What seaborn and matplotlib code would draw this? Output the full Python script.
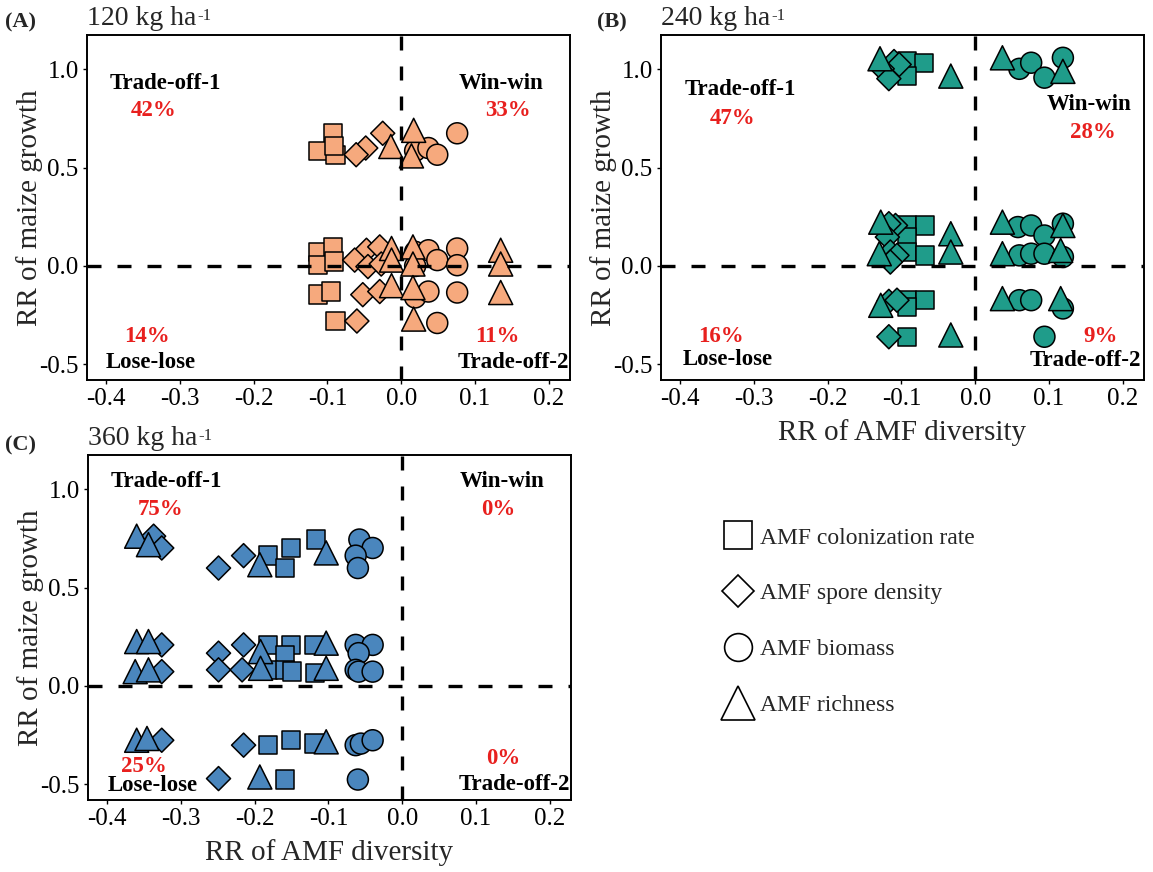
import numpy as np
import pandas as pd
import matplotlib
matplotlib.use("Agg")
import matplotlib.pyplot as plt
import seaborn as sns
from matplotlib.lines import Line2D

# ---------------- data ----------------
INDICATORS = ["AMF colonization rate", "AMF spore density", "AMF biomass", "AMF richness"]
MARKERS = dict(zip(INDICATORS, ["s", "D", "o", "^"]))
SIZES = dict(zip(INDICATORS, [175, 150, 228, 300]))

PANEL_TITLES = ["120 kg ha", "240 kg ha", "360 kg ha"]
TITLE_SUP = "-1"
PANEL_TAGS = ["(A)", "(B)", "(C)"]
COLORS = ["#F6A97D", "#1F9C8A", "#4A86BD"]

# Panel A (120 kg/ha)
A_colon_x = [-0.092, -0.113, -0.089, -0.091, -0.113, -0.092, -0.113, -0.091, -0.113, -0.095, -0.089]
A_colon_y = [0.675, 0.586, 0.566, 0.61, 0.072, 0.097, 0.004, 0.022, -0.146, -0.13, -0.28]
A_spore_x = [-0.025, -0.048, -0.061, -0.047, -0.029, -0.063, -0.045, -0.027, -0.052, -0.029, -0.06]
A_spore_y = [0.675, 0.60, 0.566, 0.08, 0.097, 0.03, -0.003, 0.01, -0.146, -0.13, -0.28]
A_bio_x = [0.076, 0.019, 0.037, 0.049, 0.019, 0.037, 0.076, 0.019, 0.049, 0.076, 0.019, 0.037, 0.076, 0.049]
A_bio_y = [0.675, 0.586, 0.60, 0.566, 0.072, 0.08, 0.089, 0.0, 0.03, 0.004, -0.16, -0.13, -0.135, -0.29]
A_rich_x = [0.017, -0.014, 0.014, -0.013, 0.016, 0.135, -0.013, 0.016, 0.135, -0.013, 0.016, 0.135, 0.017]
A_rich_y = [0.69, 0.608, 0.56, 0.089, 0.097, 0.08, 0.03, 0.01, 0.01, -0.10, -0.11, -0.135, -0.27]

# Panel B (240 kg/ha)
B_colon_x = [-0.092, -0.069, -0.092, -0.092, -0.068, -0.092, -0.092, -0.068, -0.092, -0.068, -0.092, -0.092]
B_colon_y = [1.042, 1.034, 0.966, 0.206, 0.206, 0.147, 0.071, 0.054, -0.174, -0.174, -0.21, -0.36]
B_spore_x = [-0.110, -0.103, -0.126, -0.117, -0.108, -0.117, -0.119, -0.115, -0.106, -0.115, -0.117, -0.106, -0.117]
B_spore_y = [1.04, 1.025, 1.003, 0.953, 0.206, 0.215, 0.147, 0.071, 0.054, 0.02, -0.18, -0.174, -0.36]
B_bio_x = [0.060, 0.076, 0.094, 0.119, 0.058, 0.076, 0.094, 0.119, 0.060, 0.076, 0.094, 0.119, 0.060, 0.076, 0.119, 0.094]
B_bio_y = [1.003, 1.034, 0.958, 1.059, 0.198, 0.206, 0.155, 0.215, 0.054, 0.0625, 0.0625, 0.046, -0.174, -0.174, -0.216, -0.36]
B_rich_x = [-0.129, -0.033, 0.037, 0.119, -0.128, -0.033, 0.037, 0.119, -0.130, -0.033, 0.037, 0.116, -0.128, 0.037, 0.116, -0.033]
B_rich_y = [1.054, 0.966, 1.059, 0.99, 0.223, 0.164, 0.223, 0.206, 0.0625, 0.071, 0.0625, 0.079, -0.20, -0.166, -0.166, -0.351]

# Panel C (360 kg/ha)
C_colon_x = [-0.182, -0.159, -0.151, -0.117, -0.182, -0.151, -0.159, -0.119, -0.182, -0.159, -0.149, -0.118, -0.182, -0.151, -0.119, -0.159]
C_colon_y = [0.663, 0.600, 0.702, 0.745, 0.209, 0.209, 0.158, 0.209, 0.082, 0.082, 0.073, 0.065, -0.301, -0.276, -0.293, -0.476]
C_spore_x = [-0.337, -0.326, -0.249, -0.215, -0.326, -0.249, -0.215, -0.326, -0.249, -0.217, -0.326, -0.215, -0.249]
C_spore_y = [0.762, 0.702, 0.600, 0.663, 0.209, 0.167, 0.209, 0.073, 0.082, 0.082, -0.276, -0.301, -0.471]
C_bio_x = [-0.058, -0.040, -0.063, -0.060, -0.063, -0.040, -0.059, -0.063, -0.059, -0.040, -0.063, -0.056, -0.040, -0.060]
C_bio_y = [0.745, 0.702, 0.663, 0.600, 0.209, 0.209, 0.167, 0.082, 0.073, 0.073, -0.301, -0.293, -0.276, -0.476]
C_rich_x = [-0.360, -0.344, -0.193, -0.103, -0.360, -0.344, -0.192, -0.103, -0.362, -0.344, -0.192, -0.103, -0.360, -0.346, -0.103, -0.193]
C_rich_y = [0.762, 0.719, 0.617, 0.677, 0.226, 0.226, 0.175, 0.218, 0.073, 0.082, 0.09, 0.09, -0.276, -0.267, -0.284, -0.463]

QUAD_LABELS = ["Trade-off-1", "Win-win", "Lose-lose", "Trade-off-2"]
A_pct = ["42%", "33%", "14%", "11%"]
B_pct = ["47%", "28%", "16%", "9%"]
C_pct = ["75%", "0%", "25%", "0%"]

# ---------------- style ----------------
sns.set_style("ticks")
plt.rcParams["font.family"] = ["Liberation Serif", "DejaVu Serif"]
plt.rcParams["axes.unicode_minus"] = False


def build(parts):
    rows = []
    for ind, xs, ys in parts:
        for x, y in zip(xs, ys):
            rows.append((x, y, ind))
    return pd.DataFrame(rows, columns=["x", "y", "indicator"])


dfA = build([(INDICATORS[0], A_colon_x, A_colon_y), (INDICATORS[1], A_spore_x, A_spore_y),
             (INDICATORS[2], A_bio_x, A_bio_y), (INDICATORS[3], A_rich_x, A_rich_y)])
dfB = build([(INDICATORS[0], B_colon_x, B_colon_y), (INDICATORS[1], B_spore_x, B_spore_y),
             (INDICATORS[2], B_bio_x, B_bio_y), (INDICATORS[3], B_rich_x, B_rich_y)])
dfC = build([(INDICATORS[0], C_colon_x, C_colon_y), (INDICATORS[1], C_spore_x, C_spore_y),
             (INDICATORS[2], C_bio_x, C_bio_y), (INDICATORS[3], C_rich_x, C_rich_y)])

W, H = 1153, 872
fig = plt.figure(figsize=(W / 100, H / 100), dpi=100)


def rect(l, t, r, b):
    return [l / W, 1 - b / H, (r - l) / W, (b - t) / H]


axA = fig.add_axes(rect(87, 35, 570, 380))
axB = fig.add_axes(rect(661, 35, 1144, 380))
axC = fig.add_axes(rect(88, 455, 571, 800))

# label positions (data coords): name, percent for each quadrant
A_pos = [(-0.32, 0.93), (-0.335, 0.79), (0.135, 0.93), (0.145, 0.79),
         (-0.34, -0.49), (-0.345, -0.36), (0.152, -0.49), (0.13, -0.36)]
B_pos = [(-0.318, 0.90), (-0.329, 0.75), (0.155, 0.82), (0.16, 0.68),
         (-0.335, -0.475), (-0.345, -0.36), (0.15, -0.48), (0.17, -0.36)]
C_pos = [(-0.32, 1.04), (-0.327, 0.90), (0.135, 1.04), (0.13, 0.90),
         (-0.338, -0.505), (-0.35, -0.41), (0.152, -0.50), (0.137, -0.37)]

panels = [(axA, dfA, A_pct, A_pos, False), (axB, dfB, B_pct, B_pos, True), (axC, dfC, C_pct, C_pos, True)]

for i, (ax, df, pcts, pos, xlab) in enumerate(panels):
    sns.scatterplot(data=df, x="x", y="y", style="indicator", markers=MARKERS,
                    size="indicator", sizes=SIZES, color=COLORS[i],
                    edgecolor="black", linewidth=1.1, legend=False, ax=ax, zorder=2)
    ax.axhline(0, color="black", lw=2.4, ls=(0, (4.2, 4.8)), zorder=4)
    ax.axvline(0, color="black", lw=2.4, ls=(0, (4.2, 4.8)), zorder=4)
    ax.set_xlim(-0.426, 0.229)
    ax.set_ylim(-0.58, 1.175)
    ax.set_xticks([-0.4, -0.3, -0.2, -0.1, 0.0, 0.1, 0.2])
    ax.set_yticks([-0.5, 0.0, 0.5, 1.0])
    ax.xaxis.set_major_formatter(matplotlib.ticker.FormatStrFormatter("%.1f"))
    ax.yaxis.set_major_formatter(matplotlib.ticker.FormatStrFormatter("%.1f"))
    ax.tick_params(labelsize=18, length=3, width=1, pad=3, colors="black")
    for sp in ax.spines.values():
        sp.set_linewidth(1.4)
        sp.set_color("black")
    ax.set_ylabel("RR of maize growth", fontsize=21, labelpad=-3)
    ax.set_xlabel("RR of AMF diversity" if xlab else "", fontsize=21, labelpad=6)
    for k in range(4):
        (nx, ny), (px, py) = pos[2 * k], pos[2 * k + 1]
        ax.text(nx, ny, QUAD_LABELS[k], ha="center", va="center", fontsize=16.5,
                fontweight="bold", color="black", zorder=5)
        ax.text(px, py, pcts[k], ha="center", va="center", fontsize=16.5,
                fontweight="bold", color="#E8201E", zorder=5)
    t = ax.text(0.0, 1.012, PANEL_TITLES[i], transform=ax.transAxes, ha="left",
                va="bottom", fontsize=20)
    ax.annotate(TITLE_SUP, xy=(1.0, 0.93), xycoords=t, xytext=(1, 0),
                textcoords="offset points", ha="left", va="top", fontsize=12)

fig.text(5 / W, 1 - 27 / H, PANEL_TAGS[0], fontsize=16, fontweight="bold", va="baseline")
fig.text(597 / W, 1 - 27 / H, PANEL_TAGS[1], fontsize=16, fontweight="bold", va="baseline")
fig.text(5 / W, 1 - 450 / H, PANEL_TAGS[2], fontsize=16, fontweight="bold", va="baseline")

handles = [
    Line2D([], [], ls="None", marker="s", markersize=20, markerfacecolor="white",
           markeredgecolor="black", markeredgewidth=1.2),
    Line2D([], [], ls="None", marker="D", markersize=16.5, markerfacecolor="white",
           markeredgecolor="black", markeredgewidth=1.2),
    Line2D([], [], ls="None", marker="o", markersize=20, markerfacecolor="white",
           markeredgecolor="black", markeredgewidth=1.2),
    Line2D([], [], ls="None", marker="^", markersize=25, markerfacecolor="white",
           markeredgecolor="black", markeredgewidth=1.2),
]
fig.legend(handles, INDICATORS, loc="upper left", bbox_to_anchor=(726 / W, 1 - 527 / H),
           frameon=False, fontsize=17, labelspacing=1.45, handlelength=1.0,
           handletextpad=0.45, borderpad=0, borderaxespad=0)

fig.savefig("out.png", dpi=100)
